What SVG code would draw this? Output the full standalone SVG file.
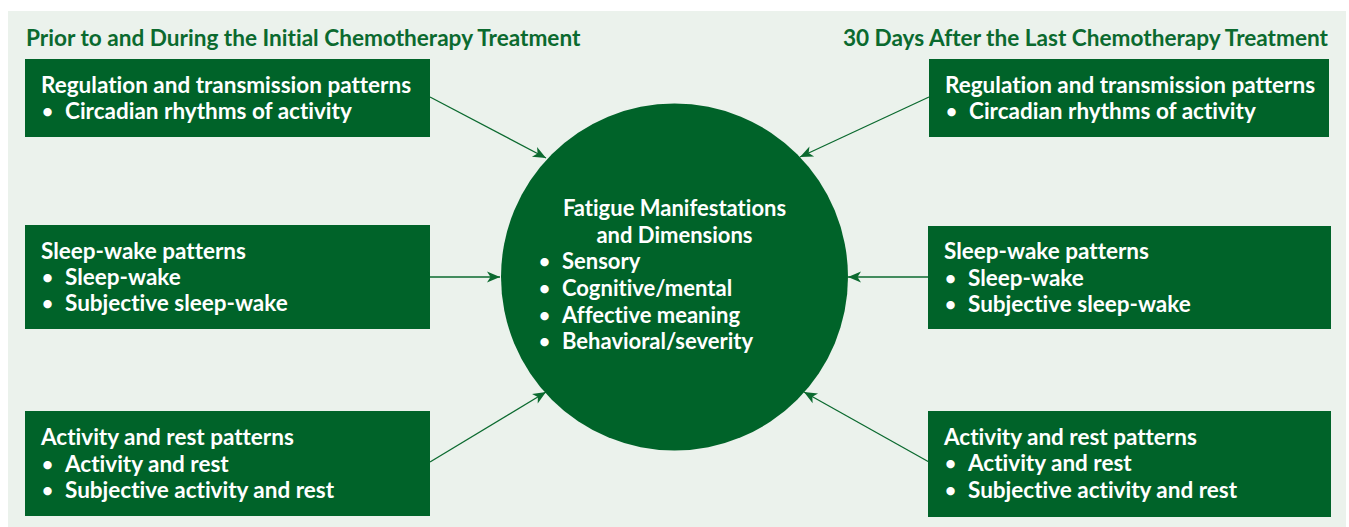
<svg xmlns="http://www.w3.org/2000/svg" width="1349" height="527" viewBox="0 0 1349 527">
  <style>
    .bg { fill: #ebf2ec; }
    .box { fill: #006329; }
    .hub { fill: #006329; }
    text { font-variant-ligatures: none; font-feature-settings: "liga" 0, "dlig" 0; }
    .head { font-family: Lato, "Liberation Sans", sans-serif; font-weight: 700; font-size: 22.6px; fill: #0b6a2f; }
    .txt { font-family: Lato, "Liberation Sans", sans-serif; font-weight: 700; font-size: 22.5px; fill: #ffffff; }
    .hubtxt { font-size: 22px; }
    .dot { font-family: Lato, "Liberation Sans", sans-serif; font-weight: 700; font-size: 19px; fill: #ffffff; }
    .link { stroke: #0b6a2f; stroke-width: 1.3; fill: none; marker-end: url(#arrow); }
  </style>
  <defs>
    <marker id="arrow" markerUnits="userSpaceOnUse" viewBox="-14 -7 16 14" refX="0" refY="0" markerWidth="16" markerHeight="14" orient="auto">
      <path d="M0,0 L-13,-5.5 L-9.5,0 L-13,5.5 Z" fill="#0b6a2f"/>
    </marker>
  </defs>

  <rect class="bg" x="8" y="11" width="1338" height="516"/>

  <!-- column headings -->
  <text class="head" x="26" y="46">Prior to and During the Initial Chemotherapy Treatment</text>
  <text class="head" x="1328" y="46" text-anchor="end">30 Days After the Last Chemotherapy Treatment</text>

  <!-- connectors -->
  <g id="connectors">
    <line class="link" x1="430" y1="97" x2="546" y2="158"/>
    <line class="link" x1="430" y1="277" x2="500" y2="277"/>
    <line class="link" x1="430" y1="462" x2="546" y2="392"/>
    <line class="link" x1="929" y1="97" x2="800" y2="157"/>
    <line class="link" x1="929" y1="277" x2="848" y2="277"/>
    <line class="link" x1="929" y1="462" x2="804" y2="392"/>
  </g>

  <!-- central node -->
  <g id="fatigue">
    <circle class="hub" cx="674.5" cy="277" r="173.5"/>
    <text class="txt hubtxt" x="674.5" y="216" text-anchor="middle">Fatigue Manifestations</text>
    <text class="txt hubtxt" x="674.5" y="243" text-anchor="middle">and Dimensions</text>
    <text class="dot" x="539" y="268">•</text><text class="txt hubtxt" x="562" y="269">Sensory</text>
    <text class="dot" x="539" y="295">•</text><text class="txt hubtxt" x="562" y="296">Cognitive/mental</text>
    <text class="dot" x="539" y="322">•</text><text class="txt hubtxt" x="562" y="323">Affective meaning</text>
    <text class="dot" x="539" y="348">•</text><text class="txt hubtxt" x="562" y="349">Behavioral/severity</text>
  </g>

  <!-- left column -->
  <g id="pre-regulation">
    <rect class="box" x="25" y="59" width="405" height="78"/>
    <text class="txt" x="41" y="93">Regulation and transmission patterns</text>
    <text class="dot" x="42" y="118">•</text><text class="txt" x="65" y="119">Circadian rhythms of activity</text>
  </g>
  <g id="pre-sleep">
    <rect class="box" x="25" y="225" width="405" height="104"/>
    <text class="txt" x="41" y="259">Sleep-wake patterns</text>
    <text class="dot" x="42" y="284">•</text><text class="txt" x="65" y="285">Sleep-wake</text>
    <text class="dot" x="42" y="310">•</text><text class="txt" x="65" y="311">Subjective sleep-wake</text>
  </g>
  <g id="pre-activity">
    <rect class="box" x="25" y="411" width="405" height="105"/>
    <text class="txt" x="41" y="445">Activity and rest patterns</text>
    <text class="dot" x="42" y="471">•</text><text class="txt" x="65" y="472">Activity and rest</text>
    <text class="dot" x="42" y="497">•</text><text class="txt" x="65" y="498">Subjective activity and rest</text>
  </g>

  <!-- right column -->
  <g id="post-regulation">
    <rect class="box" x="929" y="59" width="400" height="78"/>
    <text class="txt" x="945" y="93">Regulation and transmission patterns</text>
    <text class="dot" x="946" y="118">•</text><text class="txt" x="969" y="119">Circadian rhythms of activity</text>
  </g>
  <g id="post-sleep">
    <rect class="box" x="928" y="226" width="403" height="103"/>
    <text class="txt" x="944" y="259">Sleep-wake patterns</text>
    <text class="dot" x="945" y="285">•</text><text class="txt" x="968" y="286">Sleep-wake</text>
    <text class="dot" x="945" y="311">•</text><text class="txt" x="968" y="312">Subjective sleep-wake</text>
  </g>
  <g id="post-activity">
    <rect class="box" x="928" y="411" width="403" height="106"/>
    <text class="txt" x="944" y="445">Activity and rest patterns</text>
    <text class="dot" x="945" y="470">•</text><text class="txt" x="968" y="471">Activity and rest</text>
    <text class="dot" x="945" y="497">•</text><text class="txt" x="968" y="498">Subjective activity and rest</text>
  </g>
</svg>
